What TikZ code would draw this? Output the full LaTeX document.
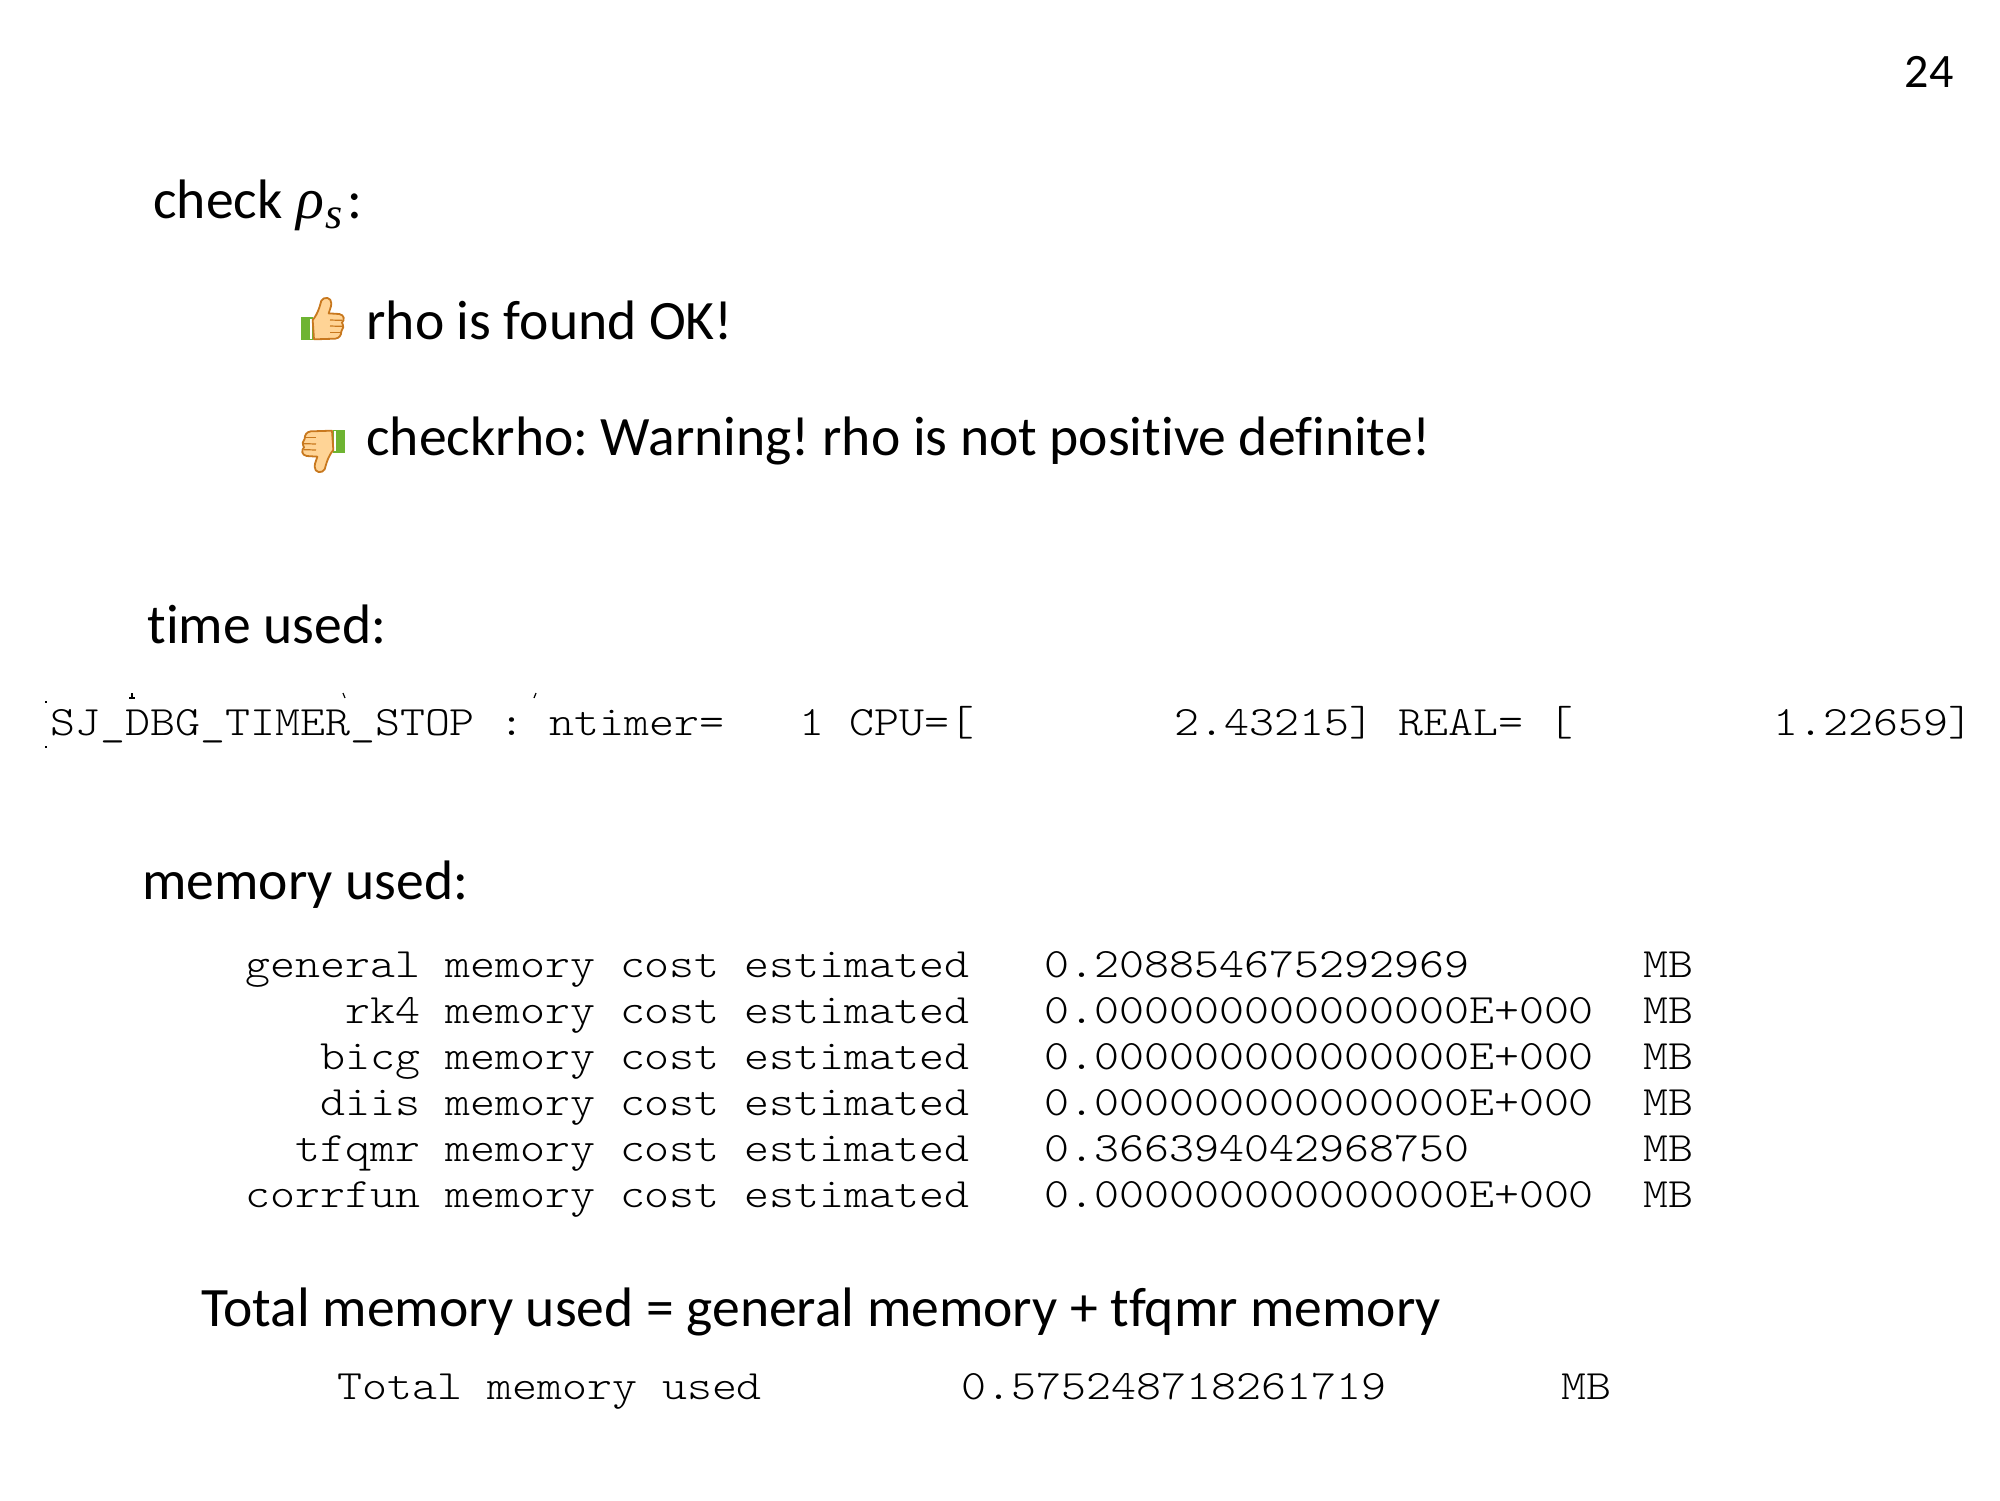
\documentclass[tikz,border=0pt]{standalone}
\usepackage{fontspec}
\setmainfont{Carlito}[Ligatures=NoCommon]
\newfontfamily\rhofont{Liberation Serif}
\newfontfamily\cour[FakeStretch=1.138]{Latin Modern Mono Light}
\definecolor{cuffgreen}{RGB}{110,180,50}
\definecolor{skin}{RGB}{255,212,150}
\definecolor{skinline}{RGB}{200,120,30}
\tikzset{
  slide/.style={anchor=base west,inner sep=0pt,font=\frenchspacing\fontsize{27.8}{32}\selectfont,text=black},
  code/.style={anchor=base west,inner sep=0pt,font=\cour\fontsize{20.9}{24}\selectfont,text=black},
  speck/.style={draw=black,line width=0.6pt},
  hand/.style={fill=skin,draw=skinline,line width=0.9pt,line join=round},
  finger/.style={draw=skinline,line width=0.6pt}
}
\newcommand{\handicon}{%
  \fill[cuffgreen] (153,172) rectangle (190,240);
  \fill[white] (179,176) rectangle (186,236);
  \draw[hand] (188,180) .. controls (205,160) and (210,135) .. (214,122)
     .. controls (222,108) and (245,112) .. (244,130)
     .. controls (244,142) and (238,150) .. (236,160)
     -- (268,162) .. controls (284,165) and (284,180) .. (276,188)
     .. controls (282,198) and (280,208) .. (274,214)
     .. controls (274,226) and (268,234) .. (256,236)
     -- (192,238) -- cycle;
  \draw[finger] (240,180) -- (276,181);
  \draw[finger] (240,198) -- (276,199);
  \draw[finger] (240,217) -- (272,217);
}
\begin{document}
\begin{tikzpicture}[x=0.5pt,y=-0.5pt]
\useasboundingbox (0,0) rectangle (2000,1500);
\node[anchor=base east,inner sep=0pt,font=\fontsize{24}{28}\selectfont] (pg) at (1954,87) {24};
\node[slide] (check) at (153,218) {check {\rhofont\itshape\fontsize{29}{32}\selectfont\kern0.8pt ρ\raisebox{-5pt}{\kern0.5pt\fontsize{22}{24}\selectfont s}}\kern2.5pt:};
\node[slide] (ok) at (366,339) {rho is found OK!};
\node[slide] (warn) at (366,455) {checkrho: Warning! rho is not positive definite!};
\node[slide] (time) at (147,643) {time used:};
\node[code] (timer) at (50,735) {SJ\_DBG\_TIMER\_STOP : ntimer=~~~1 CPU=[~~~~~~~~2.43215] REAL= [~~~~~~~~1.22659]};
\node[slide] (mem) at (142,899) {memory used:};
\node[code] (m1) at (245,977) {general memory cost estimated~~~0.208854675292969~~~~~~~MB};
\node[code] (m2) at (245,1023) {~~~~rk4 memory cost estimated~~~0.000000000000000E+000~~MB};
\node[code] (m3) at (245,1069) {~~~bicg memory cost estimated~~~0.000000000000000E+000~~MB};
\node[code] (m4) at (245,1115) {~~~diis memory cost estimated~~~0.000000000000000E+000~~MB};
\node[code] (m5) at (245,1161) {~~tfqmr memory cost estimated~~~0.366394042968750~~~~~~~MB};
\node[code] (m6) at (245,1207) {corrfun memory cost estimated~~~0.000000000000000E+000~~MB};
\node[slide] (tot) at (201,1326) {Total memory used = general memory + tfqmr memory};
\node[code] (total) at (337,1399) {Total memory used~~~~~~~~0.575248718261719~~~~~~~MB};
% small specks left over above the timer line
\draw[speck] (46,701) -- (46,703);
\draw[speck] (46,746) -- (46,748);
\draw[speck] (132,693) -- (132,698) (129,698) -- (135,698);
\draw[speck] (343,693) -- (345,698);
\draw[speck] (536,693) -- (534,698);
\begin{scope}[shift={(250,260)},x=0.16667pt,y=-0.16667pt]
\handicon
\end{scope}
\begin{scope}[shift={(396,510)},rotate=180,x=0.16667pt,y=-0.16667pt]
\handicon
\end{scope}
\end{tikzpicture}
\end{document}
